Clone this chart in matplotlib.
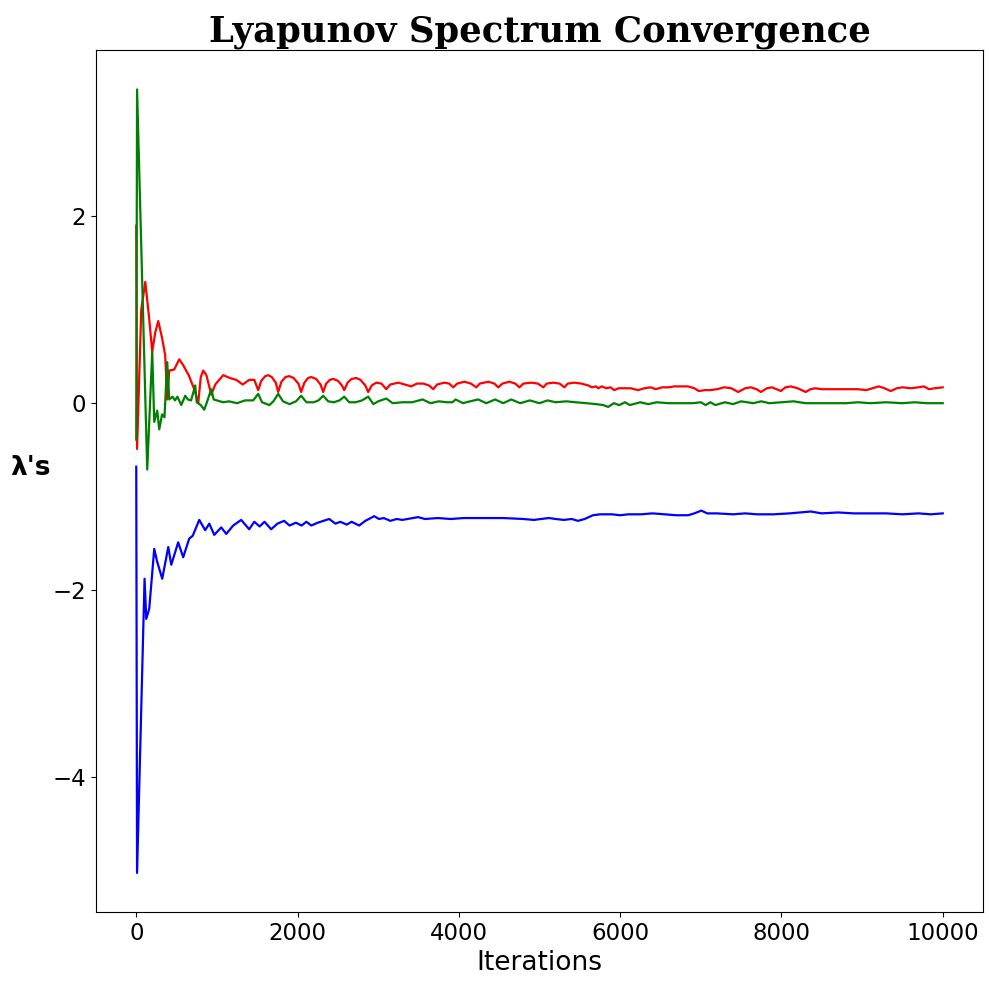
import matplotlib
matplotlib.use("Agg")
import matplotlib.pyplot as plt

# значення (ітерація, λ)
red_x = [0, 10, 62, 112, 161, 198, 236, 273, 322, 359, 384, 409, 470, 533, 580, 650, 719, 768,
         800, 830, 870, 930, 980, 1078, 1160, 1240, 1320, 1400, 1463, 1512,
         1550, 1600, 1636, 1680, 1730, 1760, 1800, 1850, 1896, 1950, 2010, 2045,
         2085, 2130, 2170, 2230, 2285, 2318, 2355, 2400, 2442, 2500, 2550, 2579,
         2620, 2670, 2728, 2780, 2840, 2876, 2920, 2976, 3040, 3100, 3150, 3249, 3330, 3410,
         3480, 3559, 3630, 3683, 3730, 3820, 3880, 3930, 3980, 4067, 4150, 4216,
         4260, 4365, 4440, 4489, 4540, 4625, 4700, 4750, 4800, 4898, 4980, 5047,
         5090, 5171, 5250, 5308, 5350, 5432, 5520, 5605, 5650, 5700, 5729, 5770, 5830, 5880,
         5927, 5980, 6050, 6130, 6222, 6300, 6383, 6440, 6520, 6600, 6669, 6750, 6842, 6920, 6977,
         7050, 7120, 7200, 7290, 7380, 7464, 7550, 7620, 7690, 7745, 7820, 7880, 7940, 7992,
         8050, 8116, 8200, 8302, 8360, 8420, 8500, 8600, 8700, 8800, 8946, 9050, 9130, 9207,
         9280, 9355, 9430, 9500, 9600, 9700, 9765, 9830, 9900, 10000]
red_y = [1.90, -0.49, 1.00, 1.30, 0.90, 0.55, 0.76, 0.88, 0.69, 0.51, 0.04, 0.35, 0.36, 0.47, 0.41, 0.30, 0.15, 0.00,
         0.28, 0.35, 0.30, 0.09, 0.20, 0.30, 0.27, 0.25, 0.20, 0.25, 0.25, 0.14,
         0.24, 0.29, 0.30, 0.28, 0.22, 0.12, 0.23, 0.28, 0.29, 0.27, 0.21, 0.12,
         0.22, 0.27, 0.28, 0.26, 0.20, 0.12, 0.21, 0.25, 0.26, 0.24, 0.19, 0.14,
         0.22, 0.26, 0.27, 0.25, 0.19, 0.12, 0.19, 0.22, 0.21, 0.15, 0.20, 0.22, 0.20, 0.18,
         0.21, 0.21, 0.19, 0.15, 0.20, 0.22, 0.21, 0.17, 0.21, 0.23, 0.21, 0.17,
         0.21, 0.23, 0.21, 0.17, 0.21, 0.23, 0.21, 0.17, 0.21, 0.22, 0.21, 0.17,
         0.21, 0.22, 0.21, 0.17, 0.21, 0.22, 0.21, 0.19, 0.17, 0.18, 0.16, 0.18, 0.16, 0.17,
         0.14, 0.16, 0.16, 0.16, 0.14, 0.16, 0.17, 0.15, 0.17, 0.17, 0.18, 0.18, 0.18, 0.16, 0.13,
         0.14, 0.14, 0.15, 0.17, 0.16, 0.12, 0.16, 0.17, 0.15, 0.12, 0.16, 0.17, 0.15, 0.13,
         0.17, 0.18, 0.16, 0.12, 0.15, 0.16, 0.15, 0.15, 0.15, 0.15, 0.15, 0.14, 0.16, 0.18,
         0.16, 0.13, 0.16, 0.17, 0.16, 0.17, 0.18, 0.15, 0.16, 0.17]

green_x = [0, 10, 136, 198, 223, 260, 285, 320, 350, 384, 409, 450, 480, 510, 558, 607, 640, 680,
           731, 750, 800, 843, 880, 930, 960, 1078, 1150, 1250, 1350, 1450, 1512, 1560, 1650,
           1700, 1760, 1820, 1900, 1980, 2045, 2110, 2200, 2260, 2318, 2380, 2450, 2520, 2579,
           2640, 2720, 2800, 2876, 2940, 3000, 3100, 3180, 3300, 3420, 3550, 3650, 3750, 3850,
           3920, 3960, 4050, 4140, 4240, 4340, 4450, 4550, 4650, 4760, 4880, 5000, 5100, 5200,
           5330, 5450, 5580, 5700, 5790, 5852, 5920, 5990, 6060, 6120, 6250, 6350, 6450, 6600,
           6750, 6900, 7000, 7060, 7120, 7180, 7300, 7400, 7500, 7650, 7750, 7850, 8000, 8150,
           8300, 8450, 8600, 8800, 8950, 9100, 9300, 9500, 9650, 9800, 10000]
green_y = [-0.39, 3.36, -0.71, 0.55, -0.20, -0.08, -0.28, -0.12, -0.15, 0.44, 0.04, 0.07, 0.03, 0.07, -0.02, 0.08, 0.04, 0.03,
           0.19, 0.01, -0.02, -0.07, 0.02, 0.15, 0.04, 0.01, 0.02, 0.00, 0.03, 0.03, 0.10, 0.01, -0.02,
           0.02, 0.10, 0.02, -0.01, 0.02, 0.08, 0.01, 0.01, 0.03, 0.08, 0.02, 0.01, 0.03, 0.07,
           0.01, 0.01, 0.03, 0.07, -0.01, 0.02, 0.05, 0.00, 0.01, 0.01, 0.04, 0.00, 0.02, 0.01,
           0.01, 0.04, 0.00, 0.02, 0.04, 0.00, 0.04, 0.00, 0.04, 0.00, 0.03, 0.00, 0.03, 0.01,
           0.02, 0.01, 0.00, -0.01, -0.02, -0.04, 0.00, -0.02, 0.01, -0.02, 0.01, -0.01, 0.01, 0.00,
           0.00, 0.00, 0.01, -0.02, 0.01, -0.02, 0.01, -0.01, 0.02, 0.00, 0.02, 0.00, 0.01, 0.02,
           0.00, 0.00, 0.00, 0.00, 0.01, 0.00, 0.01, 0.00, 0.01, 0.00, 0.00]

blue_x = [0, 10, 103, 124, 161, 223, 260, 322, 397, 434, 520, 582, 657, 700, 781, 855, 905, 967,
          1054, 1116, 1202, 1301, 1400, 1463, 1530, 1590, 1673, 1750, 1834, 1900, 1980, 2050,
          2110, 2170, 2250, 2392, 2470, 2530, 2610, 2670, 2764, 2840, 2950, 3010, 3070, 3150,
          3230, 3300, 3494, 3580, 3740, 3900, 4060, 4300, 4550, 4800, 4931, 5018, 5117, 5200,
          5300, 5400, 5477, 5560, 5662, 5750, 5900, 6000, 6100, 6258, 6400, 6550, 6700, 6842,
          6920, 7006, 7080, 7200, 7400, 7550, 7700, 7900, 8100, 8364, 8500, 8700, 8900, 9100,
          9300, 9500, 9700, 9850, 10000]
blue_y = [-0.68, -5.03, -1.88, -2.31, -2.20, -1.56, -1.70, -1.88, -1.54, -1.73, -1.49, -1.65, -1.45, -1.42, -1.25, -1.36, -1.29, -1.41,
          -1.33, -1.40, -1.31, -1.25, -1.35, -1.27, -1.32, -1.27, -1.35, -1.29, -1.26, -1.31, -1.28, -1.31,
          -1.27, -1.31, -1.28, -1.24, -1.29, -1.27, -1.30, -1.27, -1.31, -1.26, -1.21, -1.24, -1.23, -1.26,
          -1.24, -1.25, -1.22, -1.24, -1.23, -1.24, -1.23, -1.23, -1.23, -1.24, -1.25, -1.24, -1.23, -1.24,
          -1.25, -1.24, -1.26, -1.24, -1.20, -1.19, -1.19, -1.20, -1.19, -1.19, -1.18, -1.19, -1.20, -1.20,
          -1.18, -1.15, -1.18, -1.18, -1.19, -1.18, -1.19, -1.19, -1.18, -1.16, -1.18, -1.17, -1.18, -1.18,
          -1.18, -1.19, -1.18, -1.19, -1.18]

fig = plt.figure(figsize=(9.89, 9.86), dpi=100)
ax = fig.add_subplot(111)
fig.subplots_adjust(left=0.097, right=0.994, top=0.949, bottom=0.075)

ax.plot(red_x, red_y, color='r', linewidth=1.6)
ax.plot(green_x, green_y, color='g', linewidth=1.6)
ax.plot(blue_x, blue_y, color='b', linewidth=1.6)

ax.set_title("Lyapunov Spectrum Convergence", fontfamily='DejaVu Serif',
             fontweight='bold', fontsize=25.5)
ax.set_xlabel("Iterations", fontsize=19)
ax.set_ylabel("λ's", fontsize=19, fontweight='bold', rotation=0, labelpad=16)
ax.tick_params(labelsize=16.5)

plt.savefig("out.png", dpi=100)
